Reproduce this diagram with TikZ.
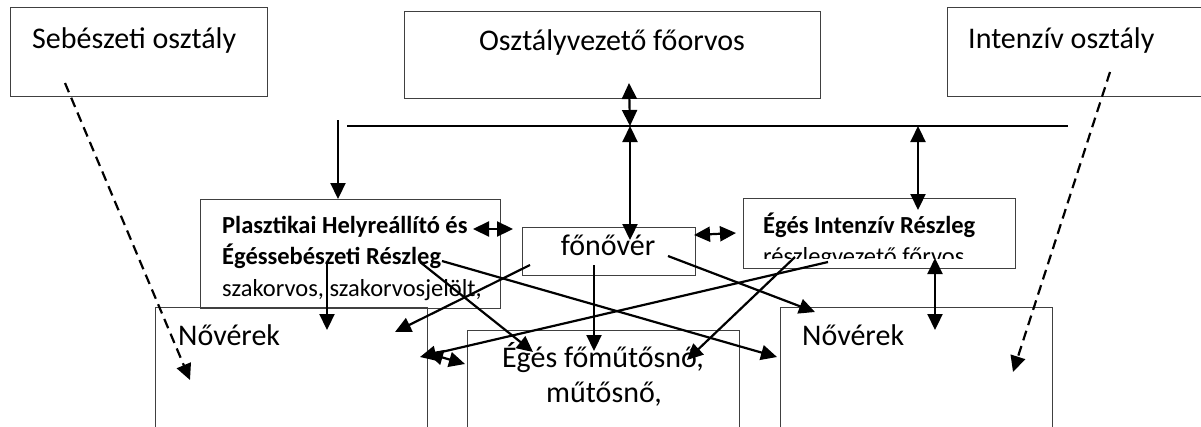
\documentclass[tikz,border=0pt]{standalone}
\usepackage{fontspec}
\setmainfont{Carlito}
\usetikzlibrary{arrows.meta}

\tikzset{
  box/.style={draw=black!75, line width=1pt, anchor=north west, inner sep=0pt},
  big/.style={font=\fontsize{30}{36}\selectfont, inner sep=0pt, anchor=base west},
  bigc/.style={big, anchor=base},
  small/.style={font=\fontsize{24.5}{31}\selectfont, inner sep=0pt, anchor=base west},
  smallb/.style={small, font=\fontsize{24.5}{31}\selectfont\bfseries},
  conn/.style={line width=2.2pt},
  dashconn/.style={conn, dash pattern=on 10pt off 6pt},
}

\begin{document}
\begin{tikzpicture}[x=1pt,y=-1pt,>={Triangle[length=16pt,width=15pt]}]
\useasboundingbox (0,0) rectangle (1201,426);
\clip (0,0) rectangle (1201,426);

% boxes
\node[box,minimum width=257pt,minimum height=89pt] (sebeszet) at (10,7) {};
\node[box,minimum width=416pt,minimum height=87pt] (foorvos) at (404,11) {};
\node[box,minimum width=300pt,minimum height=89pt] (intenziv) at (947,7) {};
\node[box,minimum width=300pt,minimum height=109pt] (plaszt) at (200,199) {};
\node[box,minimum width=173pt,minimum height=48pt] (fonover) at (522,227) {};
\node[box,minimum width=272pt,minimum height=70pt] (egesint) at (743,198) {};
\node[box,minimum width=272pt,minimum height=150pt] (noverL) at (155,307) {};
\node[box,minimum width=272pt,minimum height=150pt] (mutos) at (467,330) {};
\node[box,minimum width=272pt,minimum height=150pt] (noverR) at (780,307) {};

% texts
\node[big] (sebeszet-t) at (32,48) {Sebészeti osztály};
\node[bigc] (foorvos-t) at (612,50) {Osztályvezető főorvos};
\node[big] (intenziv-t) at (968,48) {Intenzív osztály};
\node[smallb] (plaszt-a) at (222,233) {Plasztikai Helyreállító és};
\node[smallb] (plaszt-b) at (222,264) {Égéssebészeti Részleg};
\node[small] (plaszt-c) at (222,296) {szakorvos, szakorvosjelölt,};
\node[bigc] (fonover-t) at (608,255) {főnővér};
\node[smallb] (egesint-a) at (763,233) {Égés Intenzív Részleg};
\begin{scope}
  \clip (743,198) rectangle (1015,258);
  \node[small] (egesint-b) at (763,264) {részlegvezető főrvos};
\end{scope}
\node[big] (noverL-t) at (178,345) {Nővérek};
\node[bigc] (mutos-a) at (603,367) {Égés főműtősnő,};
\node[bigc] (mutos-b) at (604,402) {műtősnő,};
\node[big] (noverR-t) at (802,345) {Nővérek};

% connector ends
\coordinate (bus-l) at (347,126);
\coordinate (bus-r) at (1068,126);
\coordinate (bus-m) at (630,126);
\coordinate (bus-e) at (918,126);
\coordinate (drop) at (338,120);
\coordinate (plaszt-top) at (338,199);
\coordinate (foorvos-in) at (629,83);
\coordinate (fonover-top) at (630,240);
\coordinate (egesint-top) at (918,210);
\coordinate (plaszt-r) at (473,229);
\coordinate (fonover-l) at (513,229);
\coordinate (fonover-r) at (694,235);
\coordinate (egesint-l) at (736,233);
\coordinate (egesint-bot) at (935,258);
\coordinate (noverR-top) at (935,330);
\coordinate (plaszt-s1) at (327,262);
\coordinate (noverL-in1) at (327,330);
\coordinate (plaszt-s2) at (420,262);
\coordinate (mutos-in1) at (533,352);
\coordinate (plaszt-s3) at (442,261);
\coordinate (noverR-in1) at (777,357);
\coordinate (fonover-s1) at (530,265);
\coordinate (noverL-in2) at (395,332);
\coordinate (fonover-s2) at (594,265);
\coordinate (mutos-in2) at (594,351);
\coordinate (fonover-s3) at (668,256);
\coordinate (noverR-in2) at (815,312);
\coordinate (egesint-s1) at (828,262);
\coordinate (noverL-in3) at (420,357);
\coordinate (egesint-s2) at (795,257);
\coordinate (mutos-in3) at (687,360);
\coordinate (noverL-r) at (427,353);
\coordinate (mutos-l) at (465,364);
\coordinate (sebeszet-in) at (65,83);
\coordinate (noverL-dash) at (190,380);
\coordinate (intenziv-in) at (1110,72);
\coordinate (noverR-dash) at (1013,372);

% connectors
\draw[conn] (bus-l) -- (bus-r);
\draw[conn,->] (drop) -- (plaszt-top);
\draw[conn,<->] (foorvos-in) -- (bus-m);
\draw[conn,<->] (bus-m) -- (fonover-top);
\draw[conn,<->] (bus-e) -- (egesint-top);
\draw[conn,<->] (plaszt-r) -- (fonover-l);
\draw[conn,<->] (fonover-r) -- (egesint-l);
\draw[conn,<->] (egesint-bot) -- (noverR-top);
\draw[conn,->] (plaszt-s1) -- (noverL-in1);
\draw[conn,->] (plaszt-s2) -- (mutos-in1);
\draw[conn,->] (plaszt-s3) -- (noverR-in1);
\draw[conn,->] (fonover-s1) -- (noverL-in2);
\draw[conn,->] (fonover-s2) -- (mutos-in2);
\draw[conn,->] (fonover-s3) -- (noverR-in2);
\draw[conn,->] (egesint-s1) -- (noverL-in3);
\draw[conn,->] (egesint-s2) -- (mutos-in3);
\draw[conn,<->] (noverL-r) -- (mutos-l);
\draw[dashconn,->] (sebeszet-in) -- (noverL-dash);
\draw[dashconn,->] (intenziv-in) -- (noverR-dash);
\end{tikzpicture}
\end{document}
